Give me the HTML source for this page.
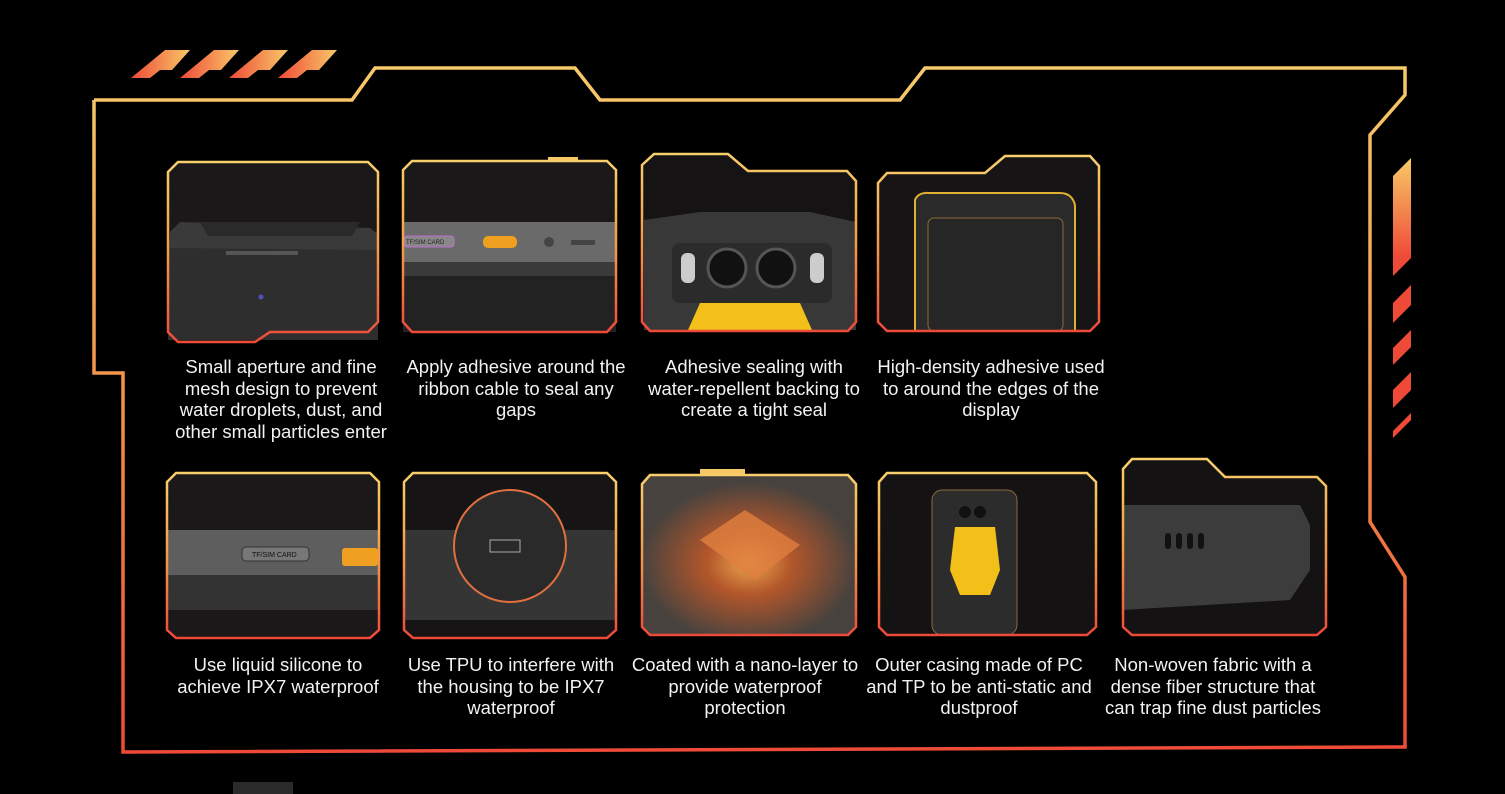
<!DOCTYPE html>
<html><head><meta charset="utf-8"><style>
html,body{margin:0;padding:0;background:#000;}
body{width:1505px;height:794px;position:relative;overflow:hidden;font-family:"Liberation Sans",sans-serif;}
.t{position:absolute;color:#f2f2f2;font-size:18.5px;line-height:21.6px;text-align:center;width:240px;white-space:nowrap;}
</style></head><body>
<svg width="1505" height="794" style="position:absolute;left:0;top:0">
<defs>
<linearGradient id="fg" gradientUnits="userSpaceOnUse" x1="0" y1="68" x2="0" y2="752"><stop offset="0" stop-color="#f7ca6a"/><stop offset="0.5" stop-color="#f39048"/><stop offset="1" stop-color="#ef4a38"/></linearGradient>
<linearGradient id="cg" x1="0" y1="0" x2="0" y2="1"><stop offset="0" stop-color="#f8cf6c"/><stop offset="0.55" stop-color="#f39448"/><stop offset="1" stop-color="#ee4a3a"/></linearGradient>
<linearGradient id="sg" x1="0" y1="0" x2="1" y2="0"><stop offset="0" stop-color="#ef4a38"/><stop offset="1" stop-color="#f8c868"/></linearGradient>
<linearGradient id="rg" gradientUnits="userSpaceOnUse" x1="0" y1="158" x2="0" y2="440"><stop offset="0" stop-color="#f8ca68"/><stop offset="0.35" stop-color="#ef4a38"/><stop offset="1" stop-color="#ef4a38"/></linearGradient>
<radialGradient id="glow" cx="0.5" cy="0.55" r="0.5"><stop offset="0" stop-color="#ffb050"/><stop offset="0.4" stop-color="#c05a2a"/><stop offset="1" stop-color="#4a4440"/></radialGradient>
</defs>
<g fill="url(#sg)">
<polygon points="131,78 165,50 190,50 172,70 160,70 150,78"/>
<polygon points="180,78 214,50 239,50 221,70 209,70 199,78"/>
<polygon points="229,78 263,50 288,50 270,70 258,70 248,78"/>
<polygon points="278,78 312,50 337,50 319,70 307,70 297,78"/>
</g>
<polyline fill="none" stroke="url(#fg)" stroke-width="3.5" points="94,100 352,100 375,68 575,68 600,100 900,100 925,68 1405,68 1405,95 1370,135 1370,522 1405,577 1405,747 123,752 123,373 94,373 94,100"/>
<g fill="url(#rg)">
<polygon points="1393,176 1411,158 1411,258 1393,276"/>
<polygon points="1393,303 1411,285 1411,305 1393,323"/>
<polygon points="1393,348 1411,330 1411,347 1393,365"/>
<polygon points="1393,390 1411,372 1411,390 1393,408"/>
<polygon points="1393,431 1411,413 1411,420 1393,438"/>
</g>

<g>
<polygon points="178,162 368,162 378,172 378,322 368,332 270,332 255,342 178,342 168,332 168,172" fill="#1a1818"/>
<rect x="168" y="240" width="210" height="100" fill="#2f2e2e"/>
<path d="M170,232 L180,222 L370,228 L378,234 L378,250 L170,248 Z" fill="#3a3a3a"/>
<path d="M200,222 L360,222 L352,236 L208,236 Z" fill="#2a2a2a"/>
<rect x="226" y="251" width="72" height="4" fill="#555"/>
<circle cx="261" cy="297" r="2.5" fill="#5050c0"/>
<polygon points="178,162 368,162 378,172 378,322 368,332 270,332 255,342 178,342 168,332 168,172" fill="none" stroke="url(#cg)" stroke-width="2.5"/>
</g>
<g>
<polygon points="412,161 607,161 616,170 616,322 607,332 412,332 403,322 403,170" fill="#1a1818"/>
<rect x="403" y="222" width="213" height="40" fill="#6a6a6a"/>
<rect x="403" y="262" width="213" height="14" fill="#3a3a3a"/>
<rect x="403" y="276" width="213" height="56" fill="#222"/>
<rect x="404" y="236" width="50" height="11" rx="3" fill="#888" stroke="#c070d0"/>
<text x="406" y="244" font-size="6" fill="#222" font-family="Liberation Sans">TF/SIM CARD</text>
<rect x="483" y="236" width="34" height="12" rx="5" fill="#f0a020"/>
<circle cx="549" cy="242" r="5" fill="#444"/>
<rect x="571" y="240" width="24" height="5" fill="#444"/>
<rect x="548" y="157" width="30" height="4" fill="#f8c868"/>
<polygon points="412,161 607,161 616,170 616,322 607,332 412,332 403,322 403,170" fill="none" stroke="url(#cg)" stroke-width="2.5"/>
</g>
<g>
<polygon points="654,154 728,154 748,171 847,171 856,181 856,322 848,331 650,331 642,322 642,165" fill="#151313"/>
<path d="M644,220 L700,212 L810,212 L856,222 L856,330 L644,330 Z" fill="#383838"/>
<rect x="672" y="243" width="160" height="60" rx="8" fill="#2b2b2b"/>
<circle cx="727" cy="268" r="19" fill="#111" stroke="#555" stroke-width="3"/>
<circle cx="776" cy="268" r="19" fill="#111" stroke="#555" stroke-width="3"/>
<rect x="681" y="253" width="14" height="30" rx="6" fill="#ccc"/>
<rect x="810" y="253" width="14" height="30" rx="6" fill="#ccc"/>
<path d="M700,303 L800,303 L812,330 L688,330 Z" fill="#f2c019"/>
<polygon points="654,154 728,154 748,171 847,171 856,181 856,322 848,331 650,331 642,322 642,165" fill="none" stroke="url(#cg)" stroke-width="2.5"/>
</g>
<g>
<polygon points="887,173 985,173 1005,156 1090,156 1099,166 1099,322 1090,331 887,331 878,322 878,183" fill="#161414"/>
<path d="M915,200 Q918,192 930,193 L1060,193 Q1072,193 1075,205 L1075,331 L915,331 Z" fill="#2a2a2a" stroke="#e0b030" stroke-width="2"/>
<rect x="928" y="218" width="135" height="113" rx="6" fill="#262626" stroke="#8a6a3a"/>
<polygon points="887,173 985,173 1005,156 1090,156 1099,166 1099,322 1090,331 887,331 878,322 878,183" fill="none" stroke="url(#cg)" stroke-width="2.5"/>
</g>

<g>
<polygon points="176,473 370,473 379,482 379,630 370,638 176,638 167,630 167,482" fill="#1a1818"/>
<rect x="167" y="530" width="212" height="45" fill="#5e5e5e"/>
<path d="M167,575 L379,575 L379,610 L167,610 Z" fill="#333"/>
<rect x="242" y="547" width="67" height="14" rx="4" fill="#777" stroke="#333"/>
<text x="252" y="557" font-size="7" fill="#111" font-family="Liberation Sans">TF/SIM CARD</text>
<rect x="342" y="548" width="36" height="18" rx="3" fill="#f0a020"/>
<polygon points="176,473 370,473 379,482 379,630 370,638 176,638 167,630 167,482" fill="none" stroke="url(#cg)" stroke-width="2.5"/>
</g>
<g>
<polygon points="413,473 607,473 616,482 616,630 607,638 413,638 404,630 404,482" fill="#161414"/>
<rect x="404" y="530" width="212" height="90" fill="#353535"/>
<circle cx="510" cy="546" r="56" fill="#2a2a2a" stroke="#e07040" stroke-width="2"/>
<rect x="490" y="540" width="30" height="12" fill="none" stroke="#aaa"/>
<polygon points="413,473 607,473 616,482 616,630 607,638 413,638 404,630 404,482" fill="none" stroke="url(#cg)" stroke-width="2.5"/>
</g>
<g>
<polygon points="650,475 848,475 856,484 856,627 848,635 650,635 642,627 642,484" fill="#3a3530"/>
<polygon points="650,475 848,475 856,484 856,627 848,635 650,635 642,627 642,484" fill="url(#glow)" opacity="0.9"/>
<polygon points="700,540 745,510 800,545 755,580" fill="#e08040" opacity="0.8"/>
<rect x="700" y="469" width="45" height="6" fill="#f8c868"/>
<polygon points="650,475 848,475 856,484 856,627 848,635 650,635 642,627 642,484" fill="none" stroke="url(#cg)" stroke-width="2.5"/>
</g>
<g>
<polygon points="887,473 1087,473 1096,482 1096,627 1087,635 887,635 879,627 879,482" fill="#141212"/>
<rect x="932" y="490" width="85" height="145" rx="10" fill="#2c2c2c" stroke="#8a6a3a"/>
<path d="M955,527 L995,527 L1000,570 L990,595 L960,595 L950,570 Z" fill="#f2c019"/>
<circle cx="965" cy="512" r="6" fill="#111"/><circle cx="980" cy="512" r="6" fill="#111"/>
<polygon points="887,473 1087,473 1096,482 1096,627 1087,635 887,635 879,627 879,482" fill="none" stroke="url(#cg)" stroke-width="2.5"/>
</g>
<g>
<polygon points="1132,459 1207,459 1225,477 1317,477 1326,486 1326,627 1317,635 1132,635 1123,627 1123,469" fill="#141212"/>
<path d="M1123,505 L1300,505 L1310,525 L1310,570 L1290,600 L1123,610 Z" fill="#3c3c3c"/>
<rect x="1165" y="533" width="6" height="16" rx="3" fill="#111"/><rect x="1176" y="533" width="6" height="16" rx="3" fill="#111"/><rect x="1187" y="533" width="6" height="16" rx="3" fill="#111"/><rect x="1198" y="533" width="6" height="16" rx="3" fill="#111"/>
<polygon points="1132,459 1207,459 1225,477 1317,477 1326,486 1326,627 1317,635 1132,635 1123,627 1123,469" fill="none" stroke="url(#cg)" stroke-width="2.5"/>
</g>
<rect x="233" y="782" width="60" height="12" fill="#2a2a2a"/>
</svg>

<div class="t" style="left:161px;top:356px">Small aperture and fine<br>mesh design to prevent<br>water droplets, dust, and<br>other small particles enter</div>
<div class="t" style="left:396px;top:356px">Apply adhesive around the<br>ribbon cable to seal any<br>gaps</div>
<div class="t" style="left:634px;top:356px">Adhesive sealing with<br>water-repellent backing to<br>create a tight seal</div>
<div class="t" style="left:871px;top:356px">High-density adhesive used<br>to around the edges of the<br>display</div>

<div class="t" style="left:158px;top:654px">Use liquid silicone to<br>achieve IPX7 waterproof</div>
<div class="t" style="left:391px;top:654px">Use TPU to interfere with<br>the housing to be IPX7<br>waterproof</div>
<div class="t" style="left:625px;top:654px">Coated with a nano-layer to<br>provide waterproof<br>protection</div>
<div class="t" style="left:859px;top:654px">Outer casing made of PC<br>and TP to be anti-static and<br>dustproof</div>
<div class="t" style="left:1093px;top:654px">Non-woven fabric with a<br>dense fiber structure that<br>can trap fine dust particles</div>
</body></html>
